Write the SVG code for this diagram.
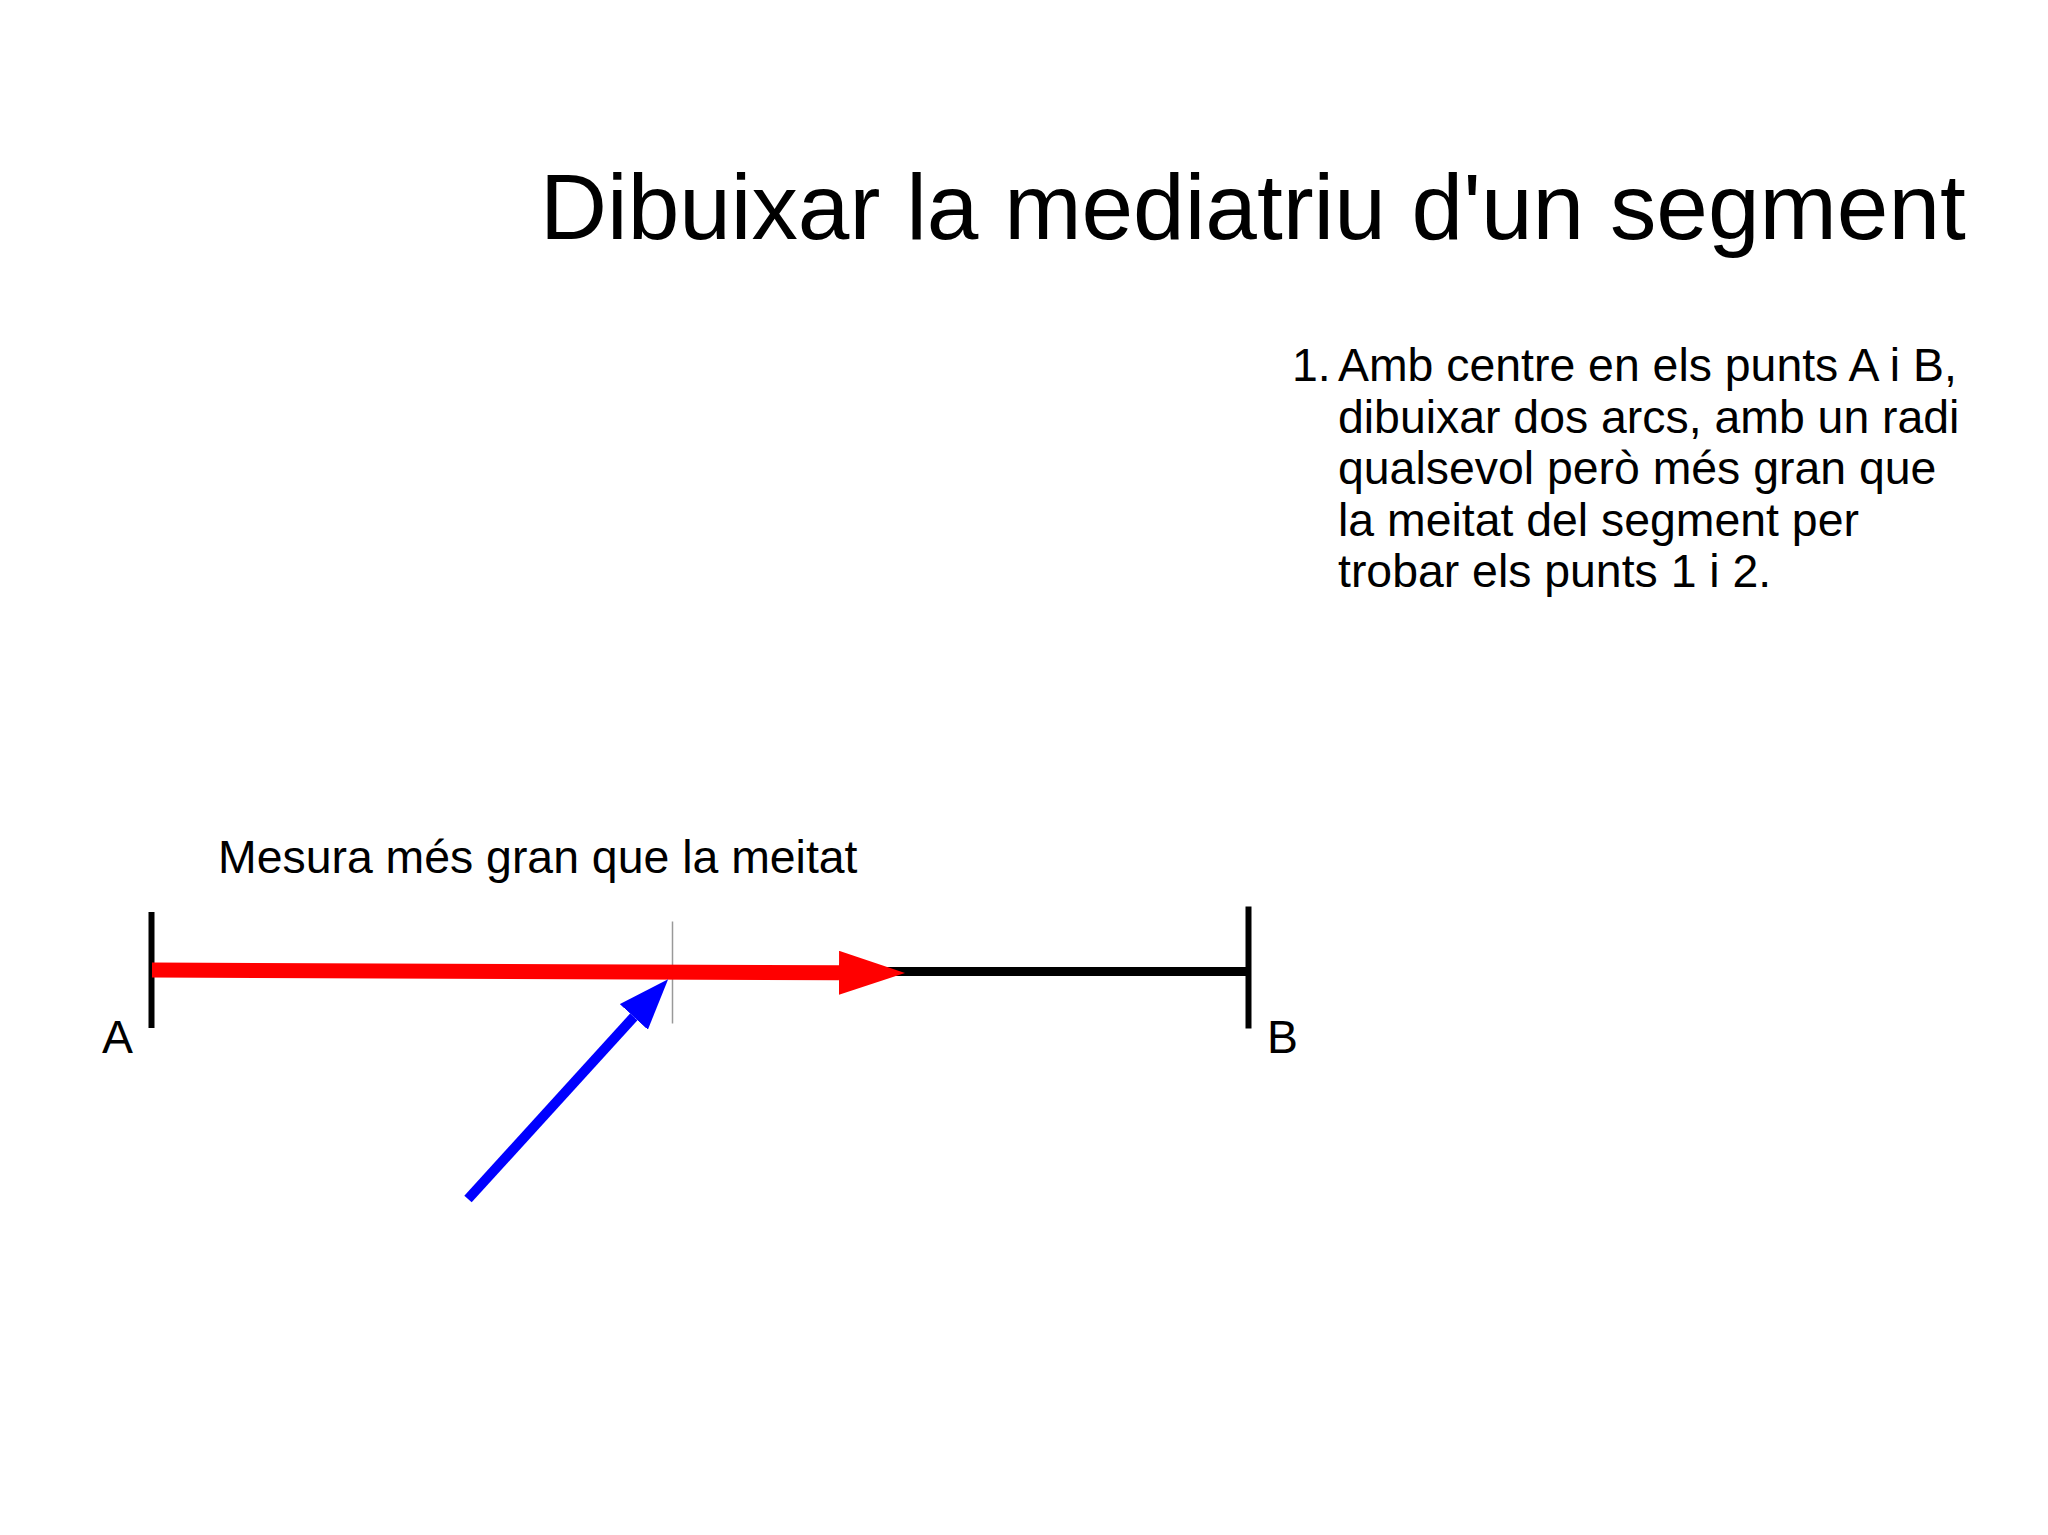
<svg xmlns="http://www.w3.org/2000/svg" width="2048" height="1535" viewBox="0 0 2048 1535">
<style>
text{font-family:"Liberation Sans",Arial,sans-serif;fill:#000}
.title{font-size:92.8px}
.body{font-size:46.4px}
.tick{stroke:#000;stroke-width:6;fill:none}
</style>
<defs>
<marker id="redHead" markerUnits="userSpaceOnUse" markerWidth="70" markerHeight="50" refX="0" refY="22" orient="auto" viewBox="0 0 70 50">
<path d="M0,0 L66,22 L0,44 Z" fill="#ff0000"/>
</marker>
<marker id="blueHead" markerUnits="userSpaceOnUse" markerWidth="55" markerHeight="40" refX="0" refY="19" orient="auto" viewBox="0 0 55 40">
<path d="M0,0 L51,19 L0,38 Z" fill="#0000ff"/>
</marker>
</defs>
<rect width="2048" height="1535" fill="#ffffff"/>
<g id="title"><text class="title" x="540" y="239">Dibuixar la mediatriu d'un segment</text></g>
<g id="instructions">
<text class="body" x="1292" y="381">1.</text>
<text class="body" x="1338" y="381">Amb centre en els punts A i B,</text>
<text class="body" x="1338" y="432.5">dibuixar dos arcs, amb un radi</text>
<text class="body" x="1338" y="484">qualsevol però més gran que</text>
<text class="body" x="1338" y="535.5">la meitat del segment per</text>
<text class="body" x="1338" y="587">trobar els punts 1 i 2.</text>
</g>
<g id="measure-label"><text class="body" x="218" y="873">Mesura més gran que la meitat</text></g>
<g id="segment">
<line x1="880" y1="971.5" x2="1248" y2="971.5" stroke="#000" stroke-width="9"/>
<line class="tick" x1="151.5" y1="912" x2="151.5" y2="1028"/>
<line class="tick" x1="1248.5" y1="906.5" x2="1248.5" y2="1028.5"/>
<line x1="672.5" y1="921.5" x2="672.5" y2="1023.5" stroke="#999999" stroke-width="1.5"/>
</g>
<g id="point-A"><text class="body" x="102" y="1053">A</text></g>
<g id="point-B"><text class="body" x="1267" y="1053">B</text></g>
<g id="connectors">
<path d="M152,970 L839,972.8" stroke="#ff0000" stroke-width="15" fill="none" marker-end="url(#redHead)"/>
<path d="M468,1199 L633.8,1016.9" stroke="#0000ff" stroke-width="10" fill="none" marker-end="url(#blueHead)"/>
</g>
</svg>
